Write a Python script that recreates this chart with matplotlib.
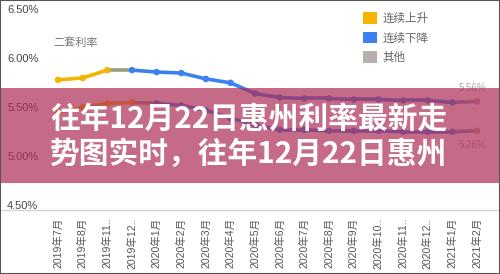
import matplotlib
matplotlib.use("Agg")
import matplotlib.pyplot as plt
from matplotlib.patches import Patch, Rectangle
from matplotlib.collections import LineCollection
import numpy as np

plt.rcParams['font.family'] = ['Liberation Sans', 'Noto Sans CJK SC']

months = ['2019年7月', '2019年8月', '2019年11..', '2019年12..', '2020年1月', '2020年2月',
          '2020年3月', '2020年4月', '2020年5月', '2020年6月', '2020年7月', '2020年8月',
          '2020年9月', '2020年10..', '2020年11..', '2020年12..', '2021年1月', '2021年2月']

# 二套利率 (%), and the first-home rate drawn below it
second_rate = [5.78, 5.80, 5.88, 5.88, 5.86, 5.85, 5.79, 5.75, 5.64, 5.60,
               5.59, 5.59, 5.58, 5.58, 5.57, 5.57, 5.55, 5.56]
first_rate = [5.45, 5.50, 5.54, 5.55, 5.54, 5.52, 5.47, 5.39, 5.32, 5.27,
              5.27, 5.26, 5.26, 5.26, 5.25, 5.25, 5.25, 5.26]

# trend class of each point: up = 连续上升, down = 连续下降, other = 其他
second_trend = ['up'] * 3 + ['down'] * 14 + ['other']
first_trend = ['up'] * 4 + ['down'] * 13 + ['other']

rate_ticks = [4.5, 5.0, 5.5, 6.0, 6.5]
legend_names = ['连续上升', '连续下降', '其他']
banner_lines = ['往年12月22日惠州利率最新走', '势图实时，往年12月22日惠州']

colors = {'up': '#f4b400', 'down': '#3b82f0', 'other': '#b8aeab'}


def blend(c1, c2):
    a = np.array(matplotlib.colors.to_rgb(c1))
    b = np.array(matplotlib.colors.to_rgb(c2))
    return tuple((a + b) / 2 * 0.85 + 0.15 * 0.65)


def draw_rate(ax, values, trend):
    x = np.arange(len(values))
    pts = np.column_stack([x, values])
    segs = np.stack([pts[:-1], pts[1:]], axis=1)
    seg_colors = []
    for i in range(len(values) - 1):
        a, b = trend[i], trend[i + 1]
        seg_colors.append(colors[b] if a == b else blend(colors[a], colors[b]))
    ax.add_collection(LineCollection(segs, colors=seg_colors, linewidths=2.6,
                                     capstyle='round', zorder=2))
    ax.scatter(x, values, s=22, c=[colors[t] for t in trend], zorder=3, linewidths=0)


fig = plt.figure(figsize=(5, 2.74), dpi=100)
ax = fig.add_axes([0, 1 - 210 / 274, 1, 210 / 274])
ax.set_xlim(-2.353, 17.93)
ax.set_ylim(4.451, 6.596)

draw_rate(ax, second_rate, second_trend)
draw_rate(ax, first_rate, first_trend)

ax.annotate(f'{second_rate[-1]:.2f}%', xy=(len(months) - 1, second_rate[-1]), xytext=(-3.6, 9.5),
            textcoords='offset points', ha='center', va='center', fontsize=7, color='#aaaaaa')
ax.annotate(f'{first_rate[-1]:.2f}%', xy=(len(months) - 1, first_rate[-1]), xytext=(-3.6, -10),
            textcoords='offset points', ha='center', va='center', fontsize=7, color='#aaaaaa')

ax.set_yticks(rate_ticks)
ax.set_yticklabels([f'{t:.2f}%' for t in rate_ticks])
ax.tick_params(axis='y', length=0, pad=-5.2, labelsize=8, labelcolor='#444444')
for lab in ax.get_yticklabels():
    lab.set_horizontalalignment('left')

ax.set_xticks(range(len(months)))
ax.set_xticklabels(months, rotation=90)
ax.tick_params(axis='x', length=0, pad=5.5, labelsize=7.6, labelcolor='#555555')

for side in ['top', 'left', 'right']:
    ax.spines[side].set_visible(False)
ax.spines['bottom'].set_color('#d4d4d4')
ax.spines['bottom'].set_linewidth(1)

fig.text(53 / 500, 1 - 43 / 274, '二套利率', fontsize=8, color='#777777',
         va='center', ha='left', family=['Noto Sans CJK SC'])

handles = [Patch(facecolor=colors[k], edgecolor='none') for k in ['up', 'down', 'other']]
fig.legend(handles, legend_names, loc='upper left', bbox_to_anchor=(363 / 500, 1 - 12 / 274),
           bbox_transform=fig.transFigure, frameon=False, borderpad=0,
           borderaxespad=0, handlelength=1.2, handleheight=1.2, handletextpad=0.5,
           labelspacing=0.55, labelcolor='#666666', prop={'family': 'Noto Sans CJK SC', 'size': 8.3})

# translucent title banner laid over the middle of the chart
fig.patches.append(Rectangle((0, 1 - 183 / 274), 1, 95 / 274, transform=fig.transFigure,
                             facecolor='#ae2d55', alpha=0.7, edgecolor='none', zorder=5))
for row, line in enumerate(banner_lines):
    fig.text(50 / 500, 1 - (119 + row * 35) / 274, line, fontsize=21.4, fontweight='bold',
             color='white', va='center', ha='left', family=['Noto Sans CJK SC'], zorder=6)

fig.patches.append(Rectangle((0, 0), 1, 1, transform=fig.transFigure, fill=False,
                             edgecolor='#555555', linewidth=1.5, zorder=7))

fig.savefig('out.png', dpi=100)
